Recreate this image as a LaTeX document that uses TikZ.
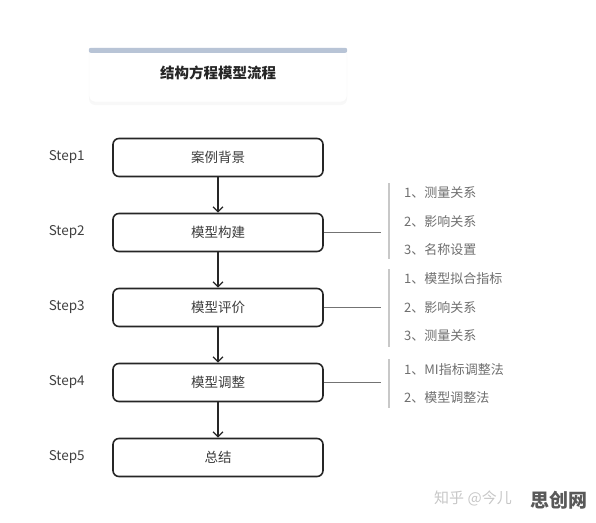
\documentclass[tikz,border=0pt]{standalone}
\usepackage{fontspec}
\setmainfont{Noto Sans CJK SC}
\usepackage{tikz}
\usetikzlibrary{arrows.meta,positioning,shadows}
\definecolor{barblue}{RGB}{184,196,214}
\definecolor{boxtext}{RGB}{60,60,60}
\definecolor{itemgray}{RGB}{110,110,110}
\definecolor{rulegray}{RGB}{200,200,200}

\begin{document}
\begin{tikzpicture}[x=1pt,y=-1pt,node distance=35.4pt,>={Straight Barb[length=5pt,width=10pt]}]
\tikzset{b/.style={rounded corners=6pt,draw=black!85,line width=1.6pt,fill=white,minimum width=210pt,minimum height=38pt,align=center,font=\fontsize{13.5}{15}\selectfont,text=boxtext},
 s/.style={font=\fontsize{13.5}{15}\selectfont,text=black!75},
 it/.style={anchor=west,font=\fontsize{13}{15}\selectfont,text=itemgray,inner sep=0pt},
 ln/.style={draw=black!55,line width=1.2pt},
 bar/.style={draw=rulegray,line width=2pt}}
\useasboundingbox (0,0) rectangle (596,522);
% title card
\node[rounded corners=6pt,fill=white,draw=black!4,minimum width=258pt,minimum height=54pt,
 drop shadow={opacity=0.06,shadow xshift=0pt,shadow yshift=-3pt}] (t) at (218,75) {};
\fill[barblue,rounded corners=2pt] (t.north west) rectangle ([yshift=-5pt]t.north east);
\node[font=\fontsize{14.5}{17}\selectfont\bfseries,text=black!85] (tt) at (218,73) {结构方程模型流程};
% steps
\node[b] (p1) at (218,157.5) {案例背景};
\node[b,below=of p1] (p2) {模型构建};
\node[b,below=of p2] (p3) {模型评价};
\node[b,below=of p3] (p4) {模型调整};
\node[b,below=of p4] (p5) {总结};
\foreach \i in {1,...,5}{\node[s,left=24pt of p\i] (s\i) {Step\i};}
\draw[->,line width=1.3pt,black!85] (p1)--(p2);
\draw[->,line width=1.3pt,black!85] (p2)--(p3);
\draw[->,line width=1.3pt,black!85] (p3)--(p4);
\draw[->,line width=1.3pt,black!85] (p4)--(p5);
% side lists
\coordinate (cx) at (381,0);
\draw[ln] (p2.east)--(p2.east -| cx);
\draw[ln] (p3.east)--(p3.east -| cx);
\draw[ln] (p4.east)--(p4.east -| cx);
\draw[bar] (389,183)--(389,259);
\draw[bar] (389,269)--(389,347);
\draw[bar] (389,359)--(389,408);
\node[it] (a1) at (404,193) {1、测量关系};
\node[it] (a2) at (404,222) {2、影响关系};
\node[it] (a3) at (404,250) {3、名称设置};
\node[it] (e1) at (404,279) {1、模型拟合指标};
\node[it] (e2) at (404,308) {2、影响关系};
\node[it] (e3) at (404,336) {3、测量关系};
\node[it] (m1) at (404,370) {1、MI指标调整法};
\node[it] (m2) at (404,398) {2、模型调整法};
% watermark
\node[anchor=west,font=\fontsize{15}{17}\selectfont,text=black!22,inner sep=0pt] (w1) at (434,498) {知乎 @今儿};
\node[anchor=west,font=\fontsize{19}{21}\selectfont\bfseries,text=black!65,inner sep=0pt] (w2) at (530,500) {思创网};
\end{tikzpicture}
\end{document}
